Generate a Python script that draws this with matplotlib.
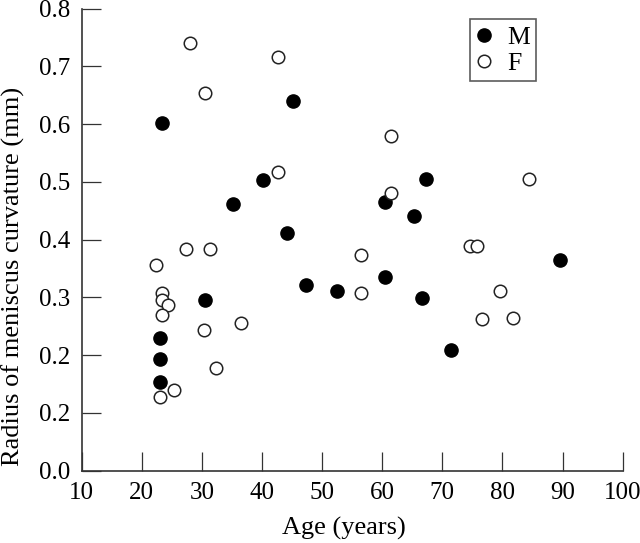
import matplotlib.pyplot as plt
import numpy as np

plt.rcParams['font.family'] = ['Liberation Serif', 'DejaVu Serif']

# male (filled)
age_m = [23.3, 45.2, 40.1, 35.1, 44.1, 30.5, 23.0, 23.0, 23.1, 47.4, 52.4,
         60.4, 67.2, 65.3, 89.5, 60.5, 66.6, 71.5]
rad_m = [0.601, 0.640, 0.5025, 0.461, 0.411, 0.295, 0.230, 0.1925, 0.153, 0.321, 0.310,
         0.465, 0.504, 0.440, 0.3645, 0.3345, 0.299, 0.209]

# female (open)
age_f = [28.0, 42.6, 30.6, 42.6, 27.3, 31.3, 22.3, 23.3, 23.3, 24.3, 23.3, 30.3, 36.5,
         32.4, 25.4, 23.0, 56.5, 56.4, 61.4, 84.4, 61.4, 74.6, 75.8, 79.6, 76.6, 81.7]
rad_f = [0.740, 0.7155, 0.654, 0.517, 0.3835, 0.3835, 0.356, 0.307, 0.296, 0.286, 0.269, 0.243, 0.256,
         0.177, 0.139, 0.128, 0.374, 0.307, 0.580, 0.505, 0.480, 0.388, 0.388, 0.310, 0.263, 0.264]

xticks = [10, 20, 30, 40, 50, 60, 70, 80, 90, 100]
yticks = [0.0, 0.1, 0.2, 0.3, 0.4, 0.5, 0.6, 0.7, 0.8]
# the original figure labels 0.1 as "0.2"
ytick_labels = ['0.0', '0.2', '0.2', '0.3', '0.4', '0.5', '0.6', '0.7', '0.8']

fig = plt.figure(figsize=(6.4, 5.43), dpi=100)
ax = fig.add_axes([0.1275, 0.1335, 0.8455, 0.8508])

ax.plot(age_m, rad_m, 'o', color='black', ms=9.5, mew=1, label='M', zorder=3)
ax.plot(age_f, rad_f, 'o', mfc='white', mec='#222222', ms=9, mew=1.1, label='F', zorder=3)

ax.set_xlim(10, 100)
ax.set_ylim(0, 0.8)
ax.set_xticks(xticks)
ax.set_yticks(yticks)
ax.set_yticklabels(ytick_labels)

ax.spines['top'].set_visible(False)
ax.spines['right'].set_visible(False)
for s in ['left', 'bottom']:
    ax.spines[s].set_color('#333333')
    ax.spines[s].set_linewidth(1.2)
ax.tick_params(direction='in', length=13.5, width=0.9, color='#333333',
               labelsize=18, pad=8)

ax.set_xlabel('Age (years)', fontsize=19)
ax.set_ylabel('Radius of meniscus curvature (mm)', fontsize=19)
ax.xaxis.set_label_coords(0.485, -0.1)
ax.yaxis.set_label_coords(-0.105, 0.42)

leg = ax.legend(loc='upper left', bbox_to_anchor=(0.717, 0.977), fontsize=18.5,
                frameon=True, fancybox=False, edgecolor='#333333',
                borderaxespad=0, handlelength=0.6, handletextpad=0.6,
                borderpad=0.25, labelspacing=0.12)
leg.get_frame().set_linewidth(1.2)

fig.savefig('out.png', dpi=100)
